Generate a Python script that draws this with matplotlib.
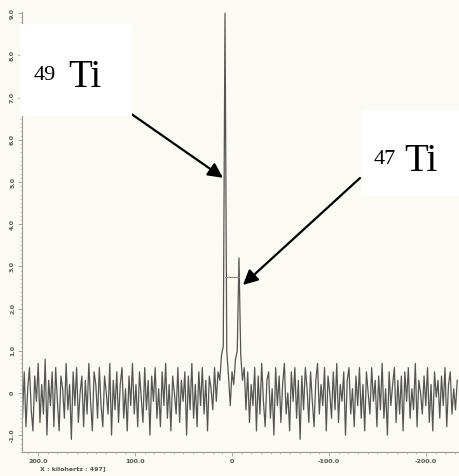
"""
NMR spectrum of 47Ti / 49Ti, redrawn from a scanned figure.
"""

import numpy as np
import matplotlib
matplotlib.use("Agg")
import matplotlib.pyplot as plt
from matplotlib.ticker import MultipleLocator, FixedLocator
from matplotlib.patches import Rectangle

# frequency axis (kHz), reversed as in the original
freq_start, freq_end = 217.8, -232.2

# intensities, one value per frequency step
intensity = [
    0.3, -0.6, 0.5, -0.8, 0.1, 0.6, -0.4, -0.9, 0.4, -0.2, 0.7, -0.7, 0.2, -0.5, 0.8, -1.0, 0.3, -0.3, 0.5, -0.8,
    0.6, -0.2, -0.9, 0.4, 0.1, -0.6, 0.7, -0.4, 0.2, -1.1, 0.5, -0.3, 0.6, -0.7, 0.0, 0.4, -0.8, 0.3, -0.5, 0.7,
    -0.2, -0.9, 0.5, 0.2, -0.6, 0.6, -0.3, -0.8, 0.4, 0.0, -0.5, 0.7, -1.0, 0.3, -0.4, 0.5, -0.7, 0.2, 0.6, -0.6,
    0.1, -0.9, 0.4, -0.3, 0.7, -0.5, 0.2, -0.8, 0.5, -0.1, -0.7, 0.6, -0.4, 0.3, -1.0, 0.4, -0.2, 0.6, -0.6, 0.1,
    -0.8, 0.5, -0.3, 0.7, -0.6, 0.2, -0.9, 0.4, 0.0, -0.5, 0.6, -0.7, 0.3, -0.2, 0.5, -1.0, 0.4, -0.4, 0.7, -0.6,
    0.2, -0.8, 0.5, -0.3, 0.6, -0.5, 0.3, -0.9, 0.4, 0.1, -0.4, 0.6, -0.2, 0.5, 0.3, 0.9, 1.1, 9.0, 1.0, 0.4,
    -0.3, 0.5, 0.2, 0.8, 1.0, 3.2, 0.9, 0.3, 0.6, -0.4, 0.5, -0.7, 0.2, -0.3, 0.6, -0.9, 0.4, -0.5, 0.7, -0.2,
    -0.8, 0.3, 0.5, -0.6, 0.1, -1.0, 0.6, -0.3, 0.4, -0.7, 0.2, 0.7, -0.5, 0.0, -0.9, 0.5, -0.2, 0.6, -0.6, 0.3,
    -1.1, 0.4, -0.4, 0.6, 0.1, -0.7, 0.5, -0.2, -0.8, 0.3, 0.7, -0.5, 0.2, -0.3, 0.6, -0.9, 0.4, 0.0, -0.6, 0.5,
    -0.4, 0.7, -0.7, 0.2, -0.2, 0.5, -1.0, 0.3, 0.6, -0.5, 0.1, -0.8, 0.4, -0.3, 0.6, -0.6, 0.2, -0.9, 0.5, 0.0,
    -0.5, 0.6, -0.2, 0.3, -0.8, 0.4, -0.4, 0.7, -0.6, 0.1, -1.0, 0.5, -0.3, 0.2, 0.6, -0.7, 0.3, -0.5, 0.4, -0.9,
    0.5, -0.2, 0.6, -0.6, 0.1, -0.4, 0.7, -0.8, 0.3, 0.0, -0.5, 0.4, -0.3, 0.6, -0.7, 0.2, -0.9, 0.5, -0.1, 0.3,
    -0.6, 0.4, -0.3, 0.6, -0.8, 0.2, 0.5, -0.5, 0.1, -0.4, 0.3,
]

# the two isotope lines and the level of the connecting bar
peak_49 = 7.2
peak_47 = -7.2
bar_level = 2.75

x_ticks = [200, 100, 0, -100, -200]
x_tick_labels = ["200.0", "100.0", "0", "-100.0", "-200.0"]
y_ticks = [-1, 0, 1, 2, 3, 4, 5, 6, 7, 8, 9]
y_tick_labels = ["-1.0", "0", "1.0", "2.0", "3.0", "4.0", "5.0", "6.0", "7.0", "8.0", "9.0"]

W, H = 459, 476
bg = "#fbfbf3"

freq = np.linspace(freq_start, freq_end, len(intensity))

fig = plt.figure(figsize=(W / 100, H / 100), dpi=100, facecolor=bg)
ax = fig.add_axes([22 / W, 1 - 452 / H, 436 / W, 440 / H])
ax.set_facecolor(bg)

ax.plot(freq, intensity, color="#555555", lw=0.9)
ax.plot([peak_49, peak_47], [bar_level, bar_level], color="#888888", lw=0.8)

ax.set_xlim(216.5, -233)
ax.set_ylim(-1.4, 9.03)

for side in ("top", "right"):
    ax.spines[side].set_visible(False)
for side in ("left", "bottom"):
    ax.spines[side].set_color("#999999")
    ax.spines[side].set_linewidth(0.8)

ax.xaxis.set_major_locator(FixedLocator(x_ticks))
ax.xaxis.set_minor_locator(MultipleLocator(10))
ax.yaxis.set_major_locator(FixedLocator(y_ticks))
ax.yaxis.set_minor_locator(MultipleLocator(0.1))
ax.set_xticklabels(x_tick_labels, fontsize=4.5, fontweight="bold", color="#555555")
ax.set_yticklabels(y_tick_labels, fontsize=4.5, fontweight="bold", color="#555555",
                   rotation=90, va="center")
ax.tick_params(which="major", length=3, width=0.6, color="#999999", pad=2)
ax.tick_params(which="minor", length=1.5, width=0.4, color="#aaaaaa")

# white label boxes
fig.patches.append(Rectangle((20 / W, 1 - 116 / H), 112 / W, 92 / H,
                             transform=fig.transFigure, facecolor="white",
                             edgecolor="none", zorder=0.5))
fig.patches.append(Rectangle((362 / W, 1 - 196 / H), 97 / W, 86 / H,
                             transform=fig.transFigure, facecolor="white",
                             edgecolor="none", zorder=0.5))

serif = ["Liberation Serif", "DejaVu Serif"]
fig.text(34 / W, 1 - 80 / H, "49", fontsize=16, family=serif, va="baseline")
fig.text(68 / W, 1 - 87 / H, "Ti", fontsize=28, family=serif, va="baseline")
fig.text(374 / W, 1 - 164 / H, "47", fontsize=16, family=serif, va="baseline")
fig.text(404 / W, 1 - 171 / H, "Ti", fontsize=28, family=serif, va="baseline")

arrow = dict(arrowstyle="-|>", color="black", lw=1.6, mutation_scale=22,
             shrinkA=0, shrinkB=0)
ax.annotate("", xy=(9.3, 5.1), xytext=(130, H - 113), textcoords="figure pixels",
            arrowprops=arrow)
ax.annotate("", xy=(-11.3, 2.56), xytext=(360, H - 178), textcoords="figure pixels",
            arrowprops=arrow)

fig.text(40 / W, 1 - 470 / H, "X : kilohertz : 497]", fontsize=4.5,
         fontweight="bold", color="#555555")

fig.savefig("out.png", dpi=100, facecolor=bg)
